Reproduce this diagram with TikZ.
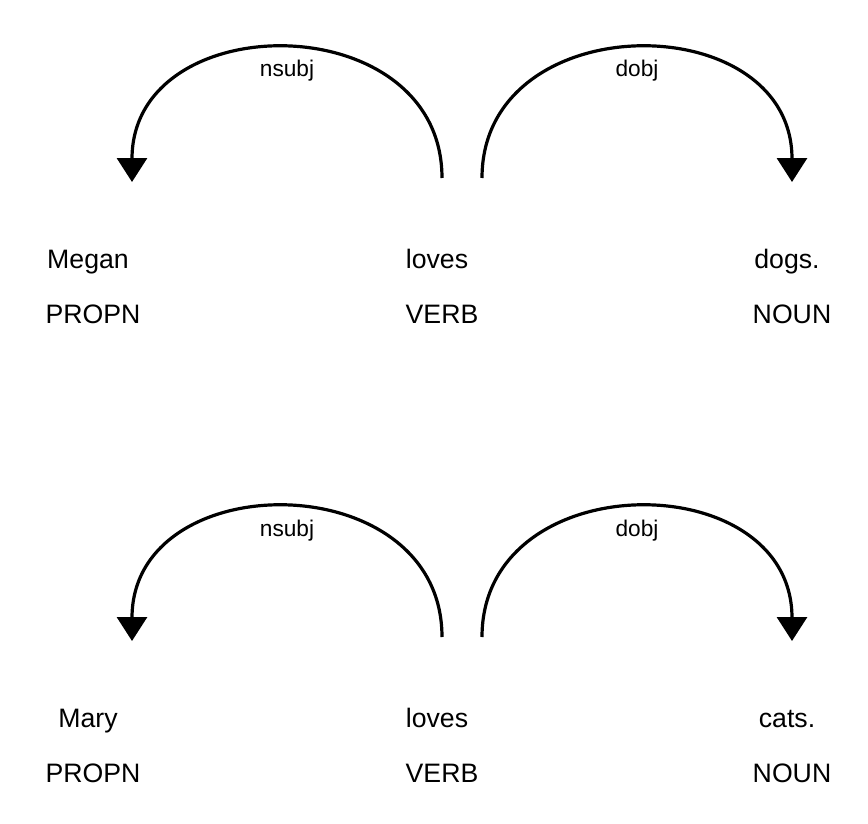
\documentclass[tikz,border=0pt]{standalone}
\usepackage{fontspec}
\setmainfont{Liberation Sans}
\usetikzlibrary{arrows.meta}

\tikzset{
  word/.style={anchor=base, inner sep=0pt, font=\fontsize{20}{24}\selectfont},
  deplabel/.style={anchor=base, inner sep=0pt, font=\fontsize{17}{20}\selectfont},
  deparc/.style={line width=2.4pt, -{Triangle[width=22.5pt,length=18pt]}}
}

\begin{document}
\begin{tikzpicture}[x=0.75pt,y=-0.75pt]
\useasboundingbox (0,0) rectangle (868,824);

\node[word] (megan) at (88,268) {Megan};
\node[word] (lovesA) at (437,268) {loves};
\node[word] (dogs) at (787,268) {dogs.};
\node[word] (propnA) at (93,323) {PROPN};
\node[word] (verbA) at (442,323) {VERB};
\node[word] (nounA) at (792,323) {NOUN};

\coordinate (nsubjA-s) at (442,178);
\coordinate (nsubjA-e) at (132,182);
\coordinate (dobjA-s) at (482,178);
\coordinate (dobjA-e) at (792,182);

\draw [deparc] (nsubjA-s) .. controls (442,5) and (132,5) .. (nsubjA-e);
\draw [deparc] (dobjA-s) .. controls (482,5) and (792,5) .. (dobjA-e);
\node[deplabel] (nsubjA) at (287,77) {nsubj};
\node[deplabel] (dobjA) at (637,77) {dobj};

\node[word] (mary) at (88,727) {Mary};
\node[word] (lovesB) at (437,727) {loves};
\node[word] (cats) at (787,727) {cats.};
\node[word] (propnB) at (93,782) {PROPN};
\node[word] (verbB) at (442,782) {VERB};
\node[word] (nounB) at (792,782) {NOUN};

\coordinate (nsubjB-s) at (442,637);
\coordinate (nsubjB-e) at (132,641);
\coordinate (dobjB-s) at (482,637);
\coordinate (dobjB-e) at (792,641);

\draw [deparc] (nsubjB-s) .. controls (442,464) and (132,464) .. (nsubjB-e);
\draw [deparc] (dobjB-s) .. controls (482,464) and (792,464) .. (dobjB-e);
\node[deplabel] (nsubjB) at (287,536) {nsubj};
\node[deplabel] (dobjB) at (637,536) {dobj};
\end{tikzpicture}
\end{document}
